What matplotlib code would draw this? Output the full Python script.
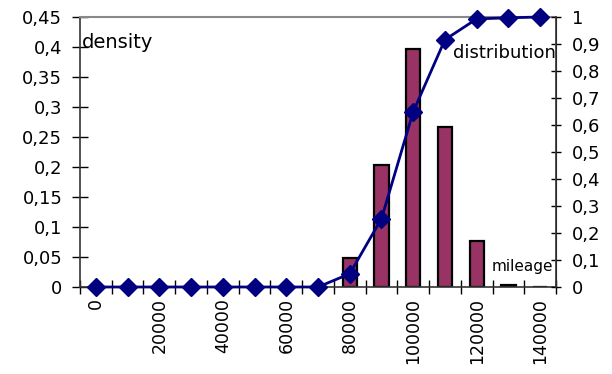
import matplotlib.pyplot as plt
import numpy as np

plt.rcParams['font.family'] = ['DejaVu Sans']

# mileage classes and their density / cumulative distribution
mileage = [0, 10000, 20000, 30000, 40000, 50000, 60000, 70000,
           80000, 90000, 100000, 110000, 120000, 130000, 140000]
density = [0, 0, 0, 0, 0, 0, 0, 0,
           0.049, 0.204, 0.396, 0.267, 0.077, 0.004, 0]
distribution = [0, 0, 0, 0, 0, 0, 0, 0,
                0.049, 0.253, 0.649, 0.916, 0.993, 0.997, 1.0]

left_ticks = [0, 0.05, 0.1, 0.15, 0.2, 0.25, 0.3, 0.35, 0.4, 0.45]
right_ticks = [0, 0.1, 0.2, 0.3, 0.4, 0.5, 0.6, 0.7, 0.8, 0.9, 1.0]


def comma(v):
    return f"{v:g}".replace('.', ',')


fig = plt.figure(figsize=(6.12, 3.74), dpi=100)
ax = fig.add_axes([80 / 612, 1 - 287 / 374, 476 / 612, 270 / 374])
x = np.arange(len(mileage))

ax.bar(x, density, width=0.45, color='#993366', edgecolor='black', linewidth=1.6, zorder=2)
ax.set_xlim(-0.5, len(mileage) - 0.5)
ax.set_ylim(0, 0.45)
ax.set_yticks(left_ticks)
ax.set_yticklabels([comma(v) for v in left_ticks], fontsize=13)
ax.set_xticks(x[::2])
ax.set_xticklabels([str(m) for m in mileage[::2]], rotation=90, fontsize=12.5)
ax.set_xticks(np.arange(len(mileage) + 1) - 0.5, minor=True)
ax.tick_params(axis='x', which='major', length=0, pad=8)
ax.tick_params(axis='x', which='minor', length=9.5, direction='inout', width=1)
ax.tick_params(axis='y', length=11.5, direction='inout', width=1, pad=7)

for side in ['left', 'bottom']:
    ax.spines[side].set_linewidth(1.2)
    ax.spines[side].set_color('#333333')
ax.spines['top'].set_color('#888888')
ax.spines['top'].set_linewidth(1.5)

ax2 = ax.twinx()
ax2.plot(x, distribution, color='#000080', linewidth=2, marker='D',
         markersize=9.5, zorder=3, clip_on=False)
ax2.set_ylim(0, 1)
ax2.set_yticks(right_ticks)
ax2.set_yticklabels([comma(v) for v in right_ticks], fontsize=13)
ax2.tick_params(axis='y', length=7, direction='inout', width=1, pad=8)
ax2.spines['right'].set_linewidth(1.2)
ax2.spines['right'].set_color('#333333')
ax2.spines['top'].set_visible(False)
ax2.spines['left'].set_visible(False)
ax2.spines['bottom'].set_visible(False)

ax.text(0.004, 0.905, 'density', transform=ax.transAxes, fontsize=14,
        ha='left', va='center')
ax2.text(1.0, 0.865, 'distribution', transform=ax.transAxes, fontsize=13,
         ha='right', va='center')
ax2.text(0.995, 0.075, 'mileage', transform=ax.transAxes, fontsize=11,
         ha='right', va='center')

fig.savefig('out.png', dpi=100)
